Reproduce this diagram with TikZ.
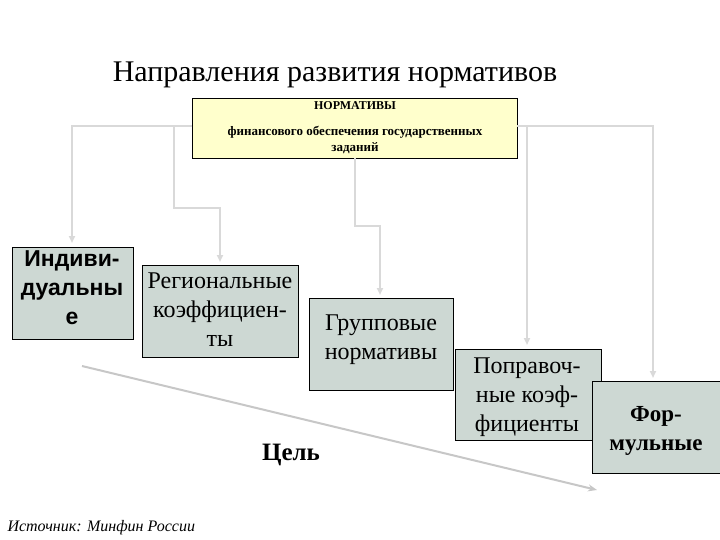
\documentclass[tikz,border=0pt]{standalone}
\usepackage{fontspec}
\setmainfont{Liberation Serif}
\newfontfamily\arialf{Liberation Sans}
\usetikzlibrary{arrows.meta}
\definecolor{boxfill}{HTML}{CDD8D3}
\definecolor{topfill}{HTML}{FFFFCC}
\definecolor{conn}{HTML}{D9D9D9}
\begin{document}
\begin{tikzpicture}[x=1pt,y=-1pt,
  box/.style={draw=black,fill=boxfill,inner sep=0pt,anchor=north west},
  btext/.style={align=center,font=\fontsize{24}{29}\selectfont},
  link/.style={draw=conn,line width=2.2pt,-{Triangle[length=7pt,width=6pt]}}]
\useasboundingbox[fill=white] (0,0) rectangle (720,540);
\node[font=\fontsize{30}{34}\selectfont] (title) at (335,75) {Направления развития нормативов};
\node[draw=black,fill=topfill,anchor=north west,minimum width=325pt,minimum height=60pt,inner sep=0pt] (top) at (192,98) {};
\node[font=\bfseries\fontsize{12}{14}\selectfont] (t1) at (355,106) {НОРМАТИВЫ};
\node[font=\bfseries\fontsize{13}{16}\selectfont,align=center] (t2) at (355,140) {финансового обеспечения государственных\\заданий};
\node[box,minimum width=121pt,minimum height=92pt] (ind) at (12,247) {};
\node[font=\arialf\bfseries\fontsize{23}{29}\selectfont,align=center] (indt) at (72,288) {Индиви-\\дуальны\\е};
\node[box,minimum width=156pt,minimum height=92pt] (reg) at (142,265) {};
\node[btext] (regt) at (220,310) {Региональные\\коэффициен-\\ты};
\node[box,minimum width=144pt,minimum height=92pt] (grp) at (309,298) {};
\node[btext] (grpt) at (381,340) {Групповые\\нормативы};
\node[box,minimum width=146pt,minimum height=91pt] (pop) at (455,349) {};
\node[btext] (popt) at (527,397) {Поправоч-\\ные коэф-\\фициенты};
\node[box,minimum width=130pt,minimum height=92pt] (frm) at (592,381) {};
\node[align=center,font=\bfseries\fontsize{23}{29}\selectfont] (frmt) at (656,431) {Фор-\\мульные};
\coordinate (a) at (192,126);
\coordinate (b) at (517,126);
\draw[link] (a) -| (72,243);
\draw[link] (174,126) -- (174,208) -- (220,208) -- (220,262);
\draw[link] (355,158) -- (355,226) -- (380,226) -- (380,295);
\draw[link] (b) -| (527,345);
\draw[link] (527,126) -| (653,378);
\coordinate (g1) at (82,366);
\coordinate (g2) at (597,490);
\draw[draw=conn!80!gray,line width=2pt,-{Stealth[length=9pt,width=7pt]}] (g1) -- (g2);
\node[font=\bfseries\fontsize{25}{29}\selectfont] (goal) at (291,455) {Цель};
\node[font=\itshape\fontsize{16}{19}\selectfont,anchor=west] (src) at (4,528) {Источник: Минфин России};
\end{tikzpicture}
\end{document}
